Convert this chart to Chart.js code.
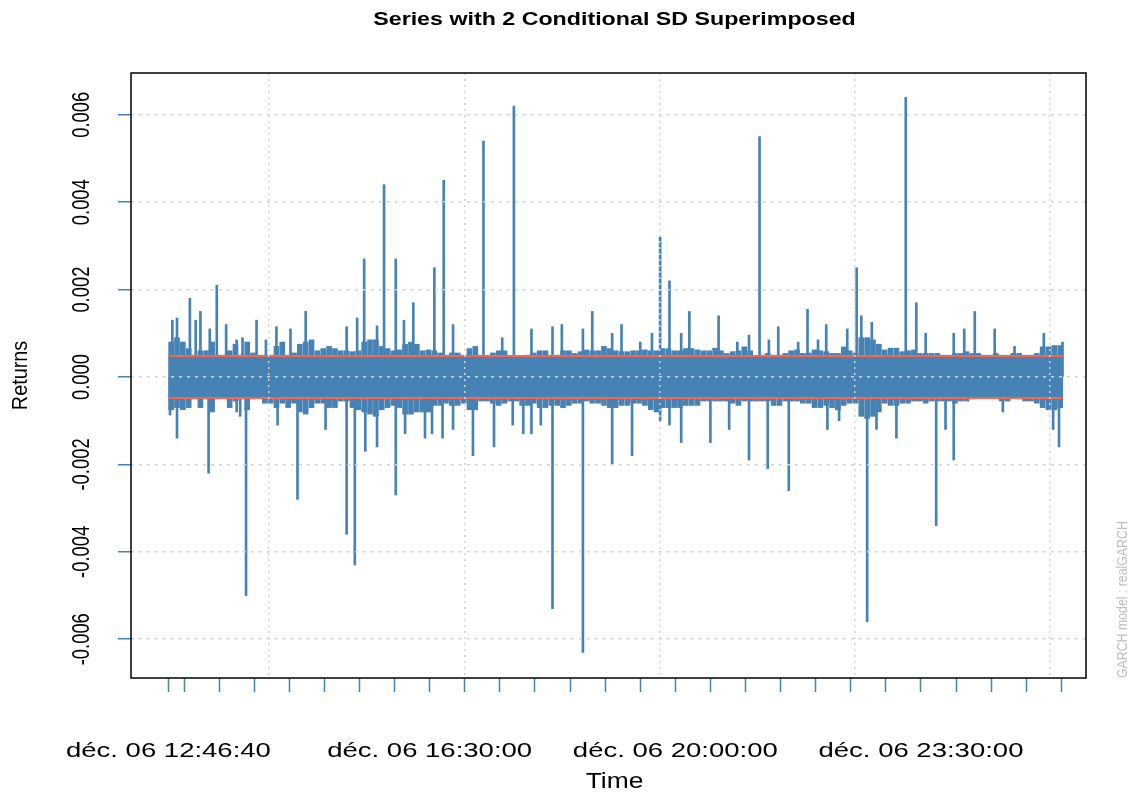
<!DOCTYPE html>
<html>
<head>
<meta charset="utf-8">
<script src="https://cdn.jsdelivr.net/npm/chart.js@4.4.1/dist/chart.umd.min.js"></script>
<style>
  body { margin: 0; background: #fff; }
  #wrap { width: 1134px; height: 794px; }
</style>
</head>
<body>
<div id="wrap"><canvas id="garchChart" width="1134" height="794"></canvas></div>
<script>
// axis ticks and labels
const yTicks = [-0.006, -0.004, -0.002, 0, 0.002, 0.004, 0.006];
const yTickLabels = ['-0.006', '-0.004', '-0.002', '0.000', '0.002', '0.004', '0.006'];
const xTickTimes = ['12:46:40', '13:00', '13:30', '14:00', '14:30', '15:00', '15:30', '16:00', '16:30',
  '17:00', '17:30', '18:00', '18:30', '19:00', '19:30', '20:00', '20:30', '21:00', '21:30', '22:00',
  '22:30', '23:00', '23:30', '00:00', '00:30', '01:00', '01:30'];
const xLabelTimes = ['12:46:40', '16:30', '20:00', '23:30'];
const xLabels = ['déc. 06 12:46:40', 'déc. 06 16:30:00', 'déc. 06 20:00:00', 'déc. 06 23:30:00'];
const gridTimes = ['14:12:40', '17:00:10', '19:46:50', '22:33:35', '01:20:20'];
const xRange = ['12:14:40', '01:51:05'];

// 2 conditional SD bands
const sdTimes = ['12:46:40', '01:31:40'];
const sdUpper = [0.00048, 0.00048];
const sdLower = [-0.00048, -0.00048];

// range that the returns fill solidly over the whole session
const coreTimes = ['12:46:40', '01:31:40'];
const coreHigh = [0.0005, 0.0005];
const coreLow = [-0.0005, -0.0005];

// dense part of the returns: high / low per 5 minute bucket, starting 12:49
const bandStart = '12:49';
const bandStep = 5;
const bandHigh = [
  8e-4, 9e-4, 8e-4, 6.5e-4, 5e-4, 6e-4, 6e-4, 8e-4, 5e-4, 5e-4,
  6e-4, 7.5e-4, 5e-4, 8e-4, 5.5e-4, 5e-4, 5e-4, 5e-4, 7e-4, 8e-4,
  5e-4, 5.5e-4, 7.5e-4, 8e-4, 8.5e-4, 6e-4, 6.5e-4, 7e-4, 6.5e-4, 6e-4,
  6e-4, 5.8e-4, 6e-4, 8e-4, 8.5e-4, 8.5e-4, 7e-4, 6.5e-4, 6e-4, 6.2e-4,
  7.5e-4, 8e-4, 7.5e-4, 6e-4, 6.2e-4, 6e-4, 5.5e-4, 5e-4, 5.5e-4, 5.5e-4,
  5e-4, 6.5e-4, 7e-4, 5e-4, 4.8e-4, 5.5e-4, 6e-4, 6e-4, 4.8e-4, 4.8e-4,
  4.5e-4, 5e-4, 5.5e-4, 6e-4, 6e-4, 4.8e-4, 5e-4, 6e-4, 6e-4, 5.4e-4,
  5.8e-4, 6.2e-4, 6e-4, 6e-4, 7e-4, 6.5e-4, 6e-4, 5.8e-4, 5.8e-4, 6e-4,
  6e-4, 6.2e-4, 6e-4, 6e-4, 6.5e-4, 6.5e-4, 6e-4, 6e-4, 6.5e-4, 6.5e-4,
  6.2e-4, 6e-4, 6e-4, 6.6e-4, 6e-4, 5.4e-4, 5.8e-4, 6e-4, 6.9e-4, 6e-4,
  4.6e-4, 5e-4, 5.4e-4, 5e-4, 5e-4, 5.4e-4, 6e-4, 6.2e-4, 5.4e-4, 5.5e-4,
  6.2e-4, 6e-4, 5.8e-4, 5.4e-4, 5.4e-4, 6.9e-4, 6e-4, 5.5e-4, 9e-4, 9e-4,
  8.5e-4, 7.5e-4, 6.2e-4, 6.6e-4, 6.6e-4, 5.8e-4, 6e-4, 6.2e-4, 5.4e-4, 5.4e-4,
  5.4e-4, 5.4e-4, 5e-4, 5e-4, 5.4e-4, 5.4e-4, 5.8e-4, 5.4e-4, 5.4e-4, 5e-4,
  5e-4, 5.4e-4, 5e-4, 5e-4, 5.4e-4, 5.4e-4, 5e-4, 5e-4, 5.4e-4, 6.9e-4,
  6.9e-4, 7.2e-4, 7.2e-4
];
const bandLow = [
  -7.5e-4, -7e-4, -7.5e-4, -7e-4, -5e-4, -7e-4, -5e-4, -8e-4, -5e-4, -4.5e-4,
  -7e-4, -5.5e-4, -5e-4, -7.5e-4, -5e-4, -4.5e-4, -6e-4, -6e-4, -7e-4, -6e-4,
  -7e-4, -6e-4, -8e-4, -8.5e-4, -7e-4, -6e-4, -6e-4, -7e-4, -7e-4, -5.5e-4,
  -5.5e-4, -7e-4, -7.5e-4, -8e-4, -8.5e-4, -9e-4, -7.5e-4, -7e-4, -6.5e-4, -7e-4,
  -8.5e-4, -8.5e-4, -8e-4, -8e-4, -8e-4, -6.5e-4, -6.5e-4, -6e-4, -6.5e-4, -6.5e-4,
  -6e-4, -7.5e-4, -7.5e-4, -5.5e-4, -5.5e-4, -6e-4, -6.5e-4, -6e-4, -5.5e-4, -5.5e-4,
  -6.5e-4, -6.5e-4, -6e-4, -7e-4, -7e-4, -6.5e-4, -6.5e-4, -7e-4, -6.5e-4, -6e-4,
  -6e-4, -5.5e-4, -6e-4, -6e-4, -6.5e-4, -7e-4, -7e-4, -6.5e-4, -6.5e-4, -6e-4,
  -6e-4, -6.5e-4, -7.5e-4, -8e-4, -7e-4, -7e-4, -7e-4, -7e-4, -6.5e-4, -6.5e-4,
  -6.5e-4, -5.5e-4, -5.5e-4, -5.5e-4, -5.5e-4, -5.5e-4, -6e-4, -6.5e-4, -5.5e-4, -5.5e-4,
  -5.5e-4, -5.5e-4, -5.5e-4, -6.5e-4, -6.5e-4, -5.5e-4, -5.5e-4, -5.5e-4, -6e-4, -6e-4,
  -7e-4, -7e-4, -6.5e-4, -7e-4, -7.5e-4, -6.5e-4, -6e-4, -6e-4, -9e-4, -9.5e-4,
  -9e-4, -8e-4, -6e-4, -6.5e-4, -6.5e-4, -6e-4, -6e-4, -5.5e-4, -5.5e-4, -6e-4,
  -5.5e-4, -5.5e-4, -5.5e-4, -5.5e-4, -6e-4, -5.5e-4, -5.5e-4, -5e-4, -4.8e-4, -4.8e-4,
  -4.8e-4, -4.8e-4, -5.5e-4, -5.5e-4, -4.8e-4, -5e-4, -5.5e-4, -5.5e-4, -6e-4, -7e-4,
  -7.5e-4, -7.5e-4, -7e-4
];

// isolated spikes of the returns series
const spikeTimes = [
  '12:50', '12:54', '13:05', '13:10', '13:14', '13:22', '13:28', '13:36', '13:45', '13:50',
  '14:02', '14:10', '14:19', '14:31', '14:44', '15:19', '15:28', '15:34', '15:45', '15:51',
  '16:01', '16:08', '16:16', '16:34', '16:42', '16:50', '17:16', '17:32', '17:42', '17:57',
  '18:15', '18:23', '18:41', '18:49', '19:06', '19:14', '19:30', '19:40', '19:47', '19:55',
  '20:05', '20:12', '20:37', '20:53', '21:03', '21:12', '21:20', '21:28', '21:45', '21:53',
  '22:02', '22:09', '22:27', '22:35', '22:39', '22:48', '23:17', '23:26', '23:34', '23:58',
  '00:07', '00:16', '00:33', '00:50', '01:15', '01:31',
  '12:48', '12:54', '13:21', '13:45', '13:48', '13:53', '14:20', '14:37', '15:01', '15:19',
  '15:26', '15:35', '15:45', '16:01', '16:09', '16:26', '16:32', '16:41', '16:50', '17:07',
  '17:25', '17:41', '17:50', '17:57', '18:05', '18:15', '18:41', '19:06', '19:23', '19:47',
  '19:55', '20:05', '20:30', '20:46', '21:03', '21:19', '21:37', '22:10', '22:20', '22:44',
  '22:52', '23:09', '23:43', '23:51', '23:58', '00:40', '01:23', '01:28'
];
const spikeValues = [
  0.0013, 0.00135, 0.0018, 0.0013, 0.0015, 0.0011, 0.0021, 0.0012, 0.00085, 0.0009,
  0.0013, 0.00085, 0.00115, 0.0011, 0.0015, 0.00115, 0.00135, 0.0027, 0.00117, 0.0044,
  0.0027, 0.0013, 0.0017, 0.0025, 0.0045, 0.0012, 0.0054, 0.0009, 0.0062, 0.0011,
  0.00115, 0.0012, 0.0011, 0.0015, 0.001, 0.0012, 0.0008, 0.001, 0.0032, 0.0022,
  0.001, 0.0015, 0.0014, 0.0008, 0.00096, 0.0055, 0.00085, 0.00115, 0.0008, 0.00155,
  0.00085, 0.0012, 0.0011, 0.0025, 0.0014, 0.00125, 0.0064, 0.0017, 0.001, 0.001,
  0.0011, 0.0015, 0.0011, 0.0007, 0.001, 0.0008,
  -0.00087, -0.0014, -0.0022, -0.0008, -0.0009, -0.005, -0.0011, -0.0028, -0.0012, -0.0036,
  -0.0043, -0.0017, -0.0016, -0.0027, -0.0013, -0.0014, -0.0013, -0.0014, -0.0012, -0.0018,
  -0.0016, -0.0011, -0.0013, -0.0013, -0.0011, -0.0053, -0.0063, -0.002, -0.0018, -0.001,
  -0.0011, -0.0015, -0.0015, -0.0012, -0.0019, -0.0021, -0.0026, -0.0012, -0.001, -0.0056,
  -0.0012, -0.0014, -0.0034, -0.0012, -0.0019, -0.0008, -0.0012, -0.0016
];

const title = 'Series with 2 Conditional SD Superimposed';
const blue = 'steelblue';
const red = 'tomato';
const fontFamily = '"Liberation Sans", Arial, sans-serif';

// minutes since 12:00 on déc. 06 (times before noon belong to the next day)
function toMinutes(t) {
  const [h, m, s = 0] = t.split(':').map(Number);
  return (h < 12 ? h + 24 : h) * 60 + m + s / 60 - 720;
}

function drawText(ctx, text, x, y, o) {
  ctx.save();
  ctx.translate(x, y);
  if (o.rotate) ctx.rotate(o.rotate);
  ctx.scale(o.stretch || 1, 1);
  ctx.font = (o.bold ? 'bold ' : '') + o.size + 'px ' + fontFamily;
  ctx.fillStyle = o.color || '#000';
  ctx.textAlign = o.align || 'center';
  ctx.textBaseline = 'alphabetic';
  ctx.fillText(text, 0, 0);
  ctx.restore();
}

const rLabels = {
  id: 'rLabels',
  afterDraw(chart) {
    const { ctx, chartArea: a, scales } = chart;
    ctx.save();
    ctx.strokeStyle = '#000';
    ctx.lineWidth = 1.5;
    ctx.strokeRect(a.left, a.top, a.right - a.left, a.bottom - a.top);
    ctx.restore();

    const mid = (a.left + a.right) / 2 + 6;
    drawText(ctx, title, mid, 25, { size: 18, stretch: 1.29, bold: true });
    xLabelTimes.forEach((t, i) => {
      drawText(ctx, xLabels[i], scales.x.getPixelForValue(toMinutes(t)), 757, { size: 21, stretch: 1.31 });
    });
    drawText(ctx, 'Time', mid, 788, { size: 22, stretch: 1.2 });
    yTicks.forEach((v, i) => {
      drawText(ctx, yTickLabels[i], a.left - 42, scales.y.getPixelForValue(v),
        { size: 23, stretch: 0.8, rotate: -Math.PI / 2 });
    });
    drawText(ctx, 'Returns', 27, (a.top + a.bottom) / 2, { size: 22, stretch: 0.9, rotate: -Math.PI / 2 });
    drawText(ctx, 'GARCH model : realGARCH', a.right + 41, a.bottom,
      { size: 14, stretch: 0.88, rotate: -Math.PI / 2, align: 'left', color: '#bebebe' });
  }
};

const bandData = bandHigh.map((hi, i) => ({ x: toMinutes(bandStart) + i * bandStep, y: [bandLow[i], hi] }));
const spikeData = spikeTimes.map((t, i) => ({ x: toMinutes(t), y: [0, spikeValues[i]] }));
const upperData = sdTimes.map((t, i) => ({ x: toMinutes(t), y: sdUpper[i] }));
const lowerData = sdTimes.map((t, i) => ({ x: toMinutes(t), y: sdLower[i] }));
const coreHighData = coreTimes.map((t, i) => ({ x: toMinutes(t), y: coreHigh[i] }));
const coreLowData = coreTimes.map((t, i) => ({ x: toMinutes(t), y: coreLow[i] }));

const xMin = toMinutes(xRange[0]);
const xMax = toMinutes(xRange[1]);

new Chart(document.getElementById('garchChart'), {
  type: 'bar',
  data: {
    datasets: [
      { type: 'line', data: upperData, borderColor: red, borderWidth: 2, pointRadius: 0, tension: 0 },
      { type: 'line', data: lowerData, borderColor: red, borderWidth: 2, pointRadius: 0, tension: 0 },
      { type: 'line', data: coreHighData, borderWidth: 0, pointRadius: 0, fill: '+1', backgroundColor: blue },
      { type: 'line', data: coreLowData, borderWidth: 0, pointRadius: 0, fill: false },
      { type: 'bar', data: spikeData, backgroundColor: blue, borderWidth: 0, barThickness: 2, stack: 'series' },
      { type: 'bar', data: bandData, backgroundColor: blue, borderWidth: 0, barThickness: 5, stack: 'series' }
    ]
  },
  options: {
    responsive: false,
    animation: false,
    events: [],
    layout: { padding: { left: 118, right: 48, top: 73, bottom: 102 } },
    plugins: { legend: { display: false }, tooltip: { enabled: false } },
    scales: {
      x: {
        type: 'linear', position: 'bottom', min: xMin, max: xMax, offset: false,
        afterBuildTicks: s => { s.ticks = xTickTimes.map(t => ({ value: toMinutes(t) })); },
        ticks: { display: false },
        grid: { offset: false, drawOnChartArea: false, drawTicks: true, tickLength: 14, tickColor: blue, tickWidth: 1.5 },
        border: { display: false }
      },
      x2: {
        type: 'linear', axis: 'x', position: 'top', min: xMin, max: xMax, offset: false,
        afterBuildTicks: s => { s.ticks = gridTimes.map(t => ({ value: toMinutes(t) })); },
        ticks: { display: false },
        grid: { offset: false, color: '#d3d3d3', lineWidth: 1.5, drawTicks: false, z: 1 },
        border: { display: false, dash: [2, 4] }
      },
      y: {
        type: 'linear', position: 'left', min: -0.006887, max: 0.006956, stacked: false,
        afterBuildTicks: s => { s.ticks = yTicks.map(v => ({ value: v })); },
        ticks: { display: false },
        grid: { color: '#d3d3d3', lineWidth: 1.5, drawTicks: true, tickLength: 13, tickColor: blue, tickWidth: 1.5, z: 1 },
        border: { display: false, dash: [3, 5] }
      }
    }
  },
  plugins: [rLabels]
});
</script>
</body>
</html>
